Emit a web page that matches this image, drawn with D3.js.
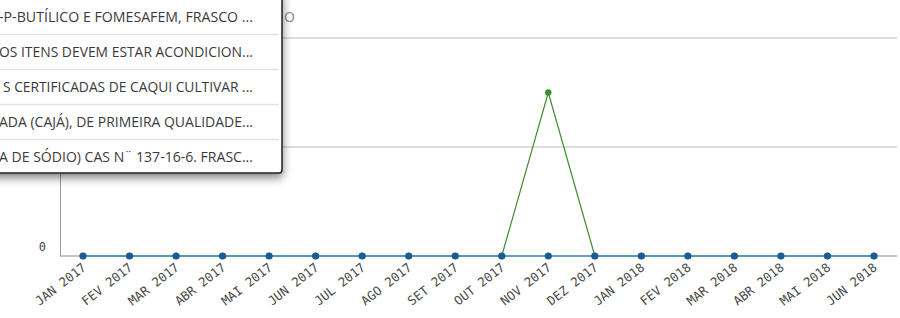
<!DOCTYPE html>
<html>
<head>
<meta charset="utf-8">
<script src="https://cdn.jsdelivr.net/npm/d3@7"></script>
<style>
  body { margin: 0; background: #fff; }
  svg { display: block; }
</style>
</head>
<body>
<svg id="chart"></svg>
<script>
// months on the x axis
const months = ["JAN 2017", "FEV 2017", "MAR 2017", "ABR 2017", "MAI 2017", "JUN 2017",
  "JUL 2017", "AGO 2017", "SET 2017", "OUT 2017", "NOV 2017", "DEZ 2017",
  "JAN 2018", "FEV 2018", "MAR 2018", "ABR 2018", "MAI 2018", "JUN 2018"];

// two series
const greenValues = [0, 0, 0, 0, 0, 0, 0, 0, 0, 0, 1.5, 0, 0, 0, 0, 0, 0, 0];
const blueValues  = [0, 0, 0, 0, 0, 0, 0, 0, 0, 0, 0, 0, 0, 0, 0, 0, 0, 0];

const yTicks = [0, 1, 2];
const yTickLabels = ["0"]; // only the zero label is visible, others hidden under the list

// dropdown list items (truncated as shown)
const listItems = [
  "-P-BUTÍLICO E FOMESAFEM, FRASCO ...",
  "OS ITENS DEVEM ESTAR ACONDICION...",
  "S CERTIFICADAS DE CAQUI CULTIVAR ...",
  "ADA (CAJÁ), DE PRIMEIRA QUALIDADE...",
  "A DE SÓDIO) CAS N¨ 137-16-6. FRASC..."
];

window.onload = function () {
  const width = 900, height = 318;
  const svg = d3.select("#chart").attr("width", width).attr("height", height);

  const x = d3.scalePoint().domain(months).range([83, 874]);
  const y = d3.scaleLinear().domain([0, 2]).range([256, 38]);

  // grid lines
  svg.append("g")
    .selectAll("line")
    .data(yTicks.filter(d => d > 0))
    .join("line")
      .attr("x1", 60).attr("x2", 897)
      .attr("y1", d => y(d)).attr("y2", d => y(d))
      .attr("stroke", "#dcdcdc")
      .attr("stroke-width", 2);

  // baseline
  svg.append("line")
    .attr("x1", 60).attr("x2", 897)
    .attr("y1", y(0)).attr("y2", y(0))
    .attr("stroke", "#c4c4c4")
    .attr("stroke-width", 2);

  // y axis line
  svg.append("line")
    .attr("x1", 60.5).attr("x2", 60.5)
    .attr("y1", 0).attr("y2", y(0))
    .attr("stroke", "#9a9a9a")
    .attr("stroke-width", 1);

  // y labels
  svg.append("g")
    .selectAll("text")
    .data(yTickLabels)
    .join("text")
      .attr("x", 46)
      .attr("y", (d, i) => y(yTicks[i]) - 5)
      .attr("text-anchor", "end")
      .attr("font-family", "DejaVu Sans Mono")
      .attr("font-size", 12)
      .attr("fill", "#444")
      .text(d => d);

  // x labels
  svg.append("g")
    .selectAll("text")
    .data(months)
    .join("text")
      .attr("transform", d => `translate(${x(d) + 4},${y(0) + 13}) rotate(-38)`)
      .attr("text-anchor", "end")
      .attr("font-family", "DejaVu Sans Mono")
      .attr("font-size", 12.5)
      .attr("fill", "#4a4a4a")
      .text(d => d);

  const line = d3.line().x((d, i) => x(months[i])).y(d => y(d));

  // green series
  svg.append("path")
    .datum(greenValues)
    .attr("d", line)
    .attr("fill", "none")
    .attr("stroke", "#3d8b2f")
    .attr("stroke-width", 1.2);

  svg.append("g")
    .selectAll("circle")
    .data(greenValues)
    .join("circle")
      .attr("cx", (d, i) => x(months[i]))
      .attr("cy", d => y(d))
      .attr("r", 3.2)
      .attr("fill", "#3d8f2d");

  // blue series
  svg.append("path")
    .datum(blueValues)
    .attr("d", line)
    .attr("fill", "none")
    .attr("stroke", "#4a8fd2")
    .attr("stroke-width", 1.5);

  svg.append("g")
    .selectAll("circle")
    .data(blueValues)
    .join("circle")
      .attr("cx", (d, i) => x(months[i]))
      .attr("cy", d => y(d))
      .attr("r", 3.6)
      .attr("fill", "#1d5b95");

  // partly hidden title behind the list
  svg.append("text")
    .attr("x", 284)
    .attr("y", 22)
    .attr("font-family", "Open Sans")
    .attr("font-size", 14)
    .attr("fill", "#888")
    .text("O");

  // dropdown list overlay
  const defs = svg.append("defs");
  const f = defs.append("filter").attr("id", "shadow")
    .attr("x", "-20%").attr("y", "-20%").attr("width", "140%").attr("height", "140%");
  f.append("feDropShadow")
    .attr("dx", 0).attr("dy", 4)
    .attr("stdDeviation", 5)
    .attr("flood-color", "#000")
    .attr("flood-opacity", 0.5);

  const box = svg.append("g");
  box.append("rect")
    .attr("x", -10).attr("y", -10)
    .attr("width", 292).attr("height", 183)
    .attr("rx", 3)
    .attr("fill", "#fff")
    .attr("stroke", "#222")
    .attr("stroke-width", 1.5)
    .attr("filter", "url(#shadow)");

  const rowH = 35;
  box.selectAll("line.sep")
    .data(listItems.slice(1))
    .join("line")
      .attr("class", "sep")
      .attr("x1", 0).attr("x2", 279)
      .attr("y1", (d, i) => 34.5 + i * rowH)
      .attr("y2", (d, i) => 34.5 + i * rowH)
      .attr("stroke", "#e2e2e2")
      .attr("stroke-width", 1.5);

  box.selectAll("text")
    .data(listItems)
    .join("text")
      .attr("x", 253)
      .attr("y", (d, i) => 22 + i * rowH)
      .attr("text-anchor", "end")
      .attr("font-family", "Open Sans")
      .attr("font-size", 14)
      .attr("textLength", (d, i) => [252, 252, 248, 252, 252][i] + 2)
      .attr("lengthAdjust", "spacingAndGlyphs")
      .attr("fill", "#3a3a3a")
      .text(d => d);
};
</script>
</body>
</html>
